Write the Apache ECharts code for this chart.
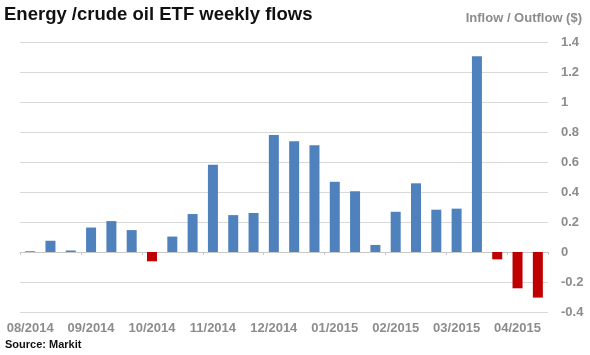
<!DOCTYPE html>
<html><head><meta charset="utf-8">
<script src="https://cdn.jsdelivr.net/npm/echarts@6/dist/echarts.min.js"></script>
<style>html,body{margin:0;padding:0;background:#fff}#c{width:590px;height:355px}</style>
</head><body><div id="c"></div>
<script>
const weeks = ['W1','W2','W3','W4','W5','W6','W7','W8','W9','W10','W11','W12','W13','W14','W15','W16','W17','W18','W19','W20','W21','W22','W23','W24','W25','W26'];
const monthLabels = ['08/2014','','','09/2014','','','10/2014','','','11/2014','','','12/2014','','','01/2015','','','02/2015','','','03/2015','','','04/2015',''];
const flows = [0.005,0.075,0.01,0.163,0.206,0.146,-0.062,0.103,0.253,0.582,0.246,0.26,0.78,0.738,0.711,0.468,0.405,0.047,0.268,0.458,0.282,0.289,1.305,-0.049,-0.242,-0.304];
const yTicks = {min:-0.4, max:1.4, interval:0.2};

const chart = echarts.init(document.getElementById('c'));
const font = 'Liberation Sans, Arial, sans-serif';
const gray = '#8c8c8c';
chart.setOption({
  animation:false,
  title:[
    {text:'Energy /crude oil ETF weekly flows', left:-1, top:0,
     textStyle:{fontFamily:font, fontSize:18.5, fontWeight:'bold', color:'#111'}},
    {text:'Source: Markit', left:0, top:334,
     textStyle:{fontFamily:font, fontSize:11, fontWeight:'bold', color:'#111'}}
  ],
  grid:{left:20, right:42, top:42, bottom:43},
  xAxis:[
    {type:'category', data:monthLabels, position:'bottom',
     axisLine:{show:false, onZero:false}, axisTick:{show:false},
     axisLabel:{interval:0, margin:10, color:gray, fontSize:13, fontWeight:'bold', fontFamily:font}},
    {type:'category', data:weeks, position:'top',
     axisLine:{show:true, onZero:true, lineStyle:{color:'#c8c8c8', width:1}},
     axisTick:{show:true, inside:true, interval:2, length:3, lineStyle:{color:'#c8c8c8'}},
     axisLabel:{show:false}}
  ],
  yAxis:{type:'value', position:'right', min:yTicks.min, max:yTicks.max, interval:yTicks.interval,
    name:'Inflow / Outflow ($)', nameLocation:'end', nameGap:17,
    nameTextStyle:{color:gray, fontSize:13, fontWeight:'bold', fontFamily:font, align:'right', padding:[0,-34,0,0]},
    axisLine:{show:false}, axisTick:{show:false},
    splitLine:{lineStyle:{color:'#d9d9d9', width:1}},
    axisLabel:{color:gray, fontSize:13, fontWeight:'bold', margin:13, fontFamily:font,
      formatter:v=>String(Math.round(v*10)/10)}},
  series:[{type:'bar', xAxisIndex:0, data:flows.map(v=>({value:v,
      itemStyle:{color: v<0 ? '#c00000' : '#4f81bd'}})), barWidth:10}]
});
</script></body></html>
